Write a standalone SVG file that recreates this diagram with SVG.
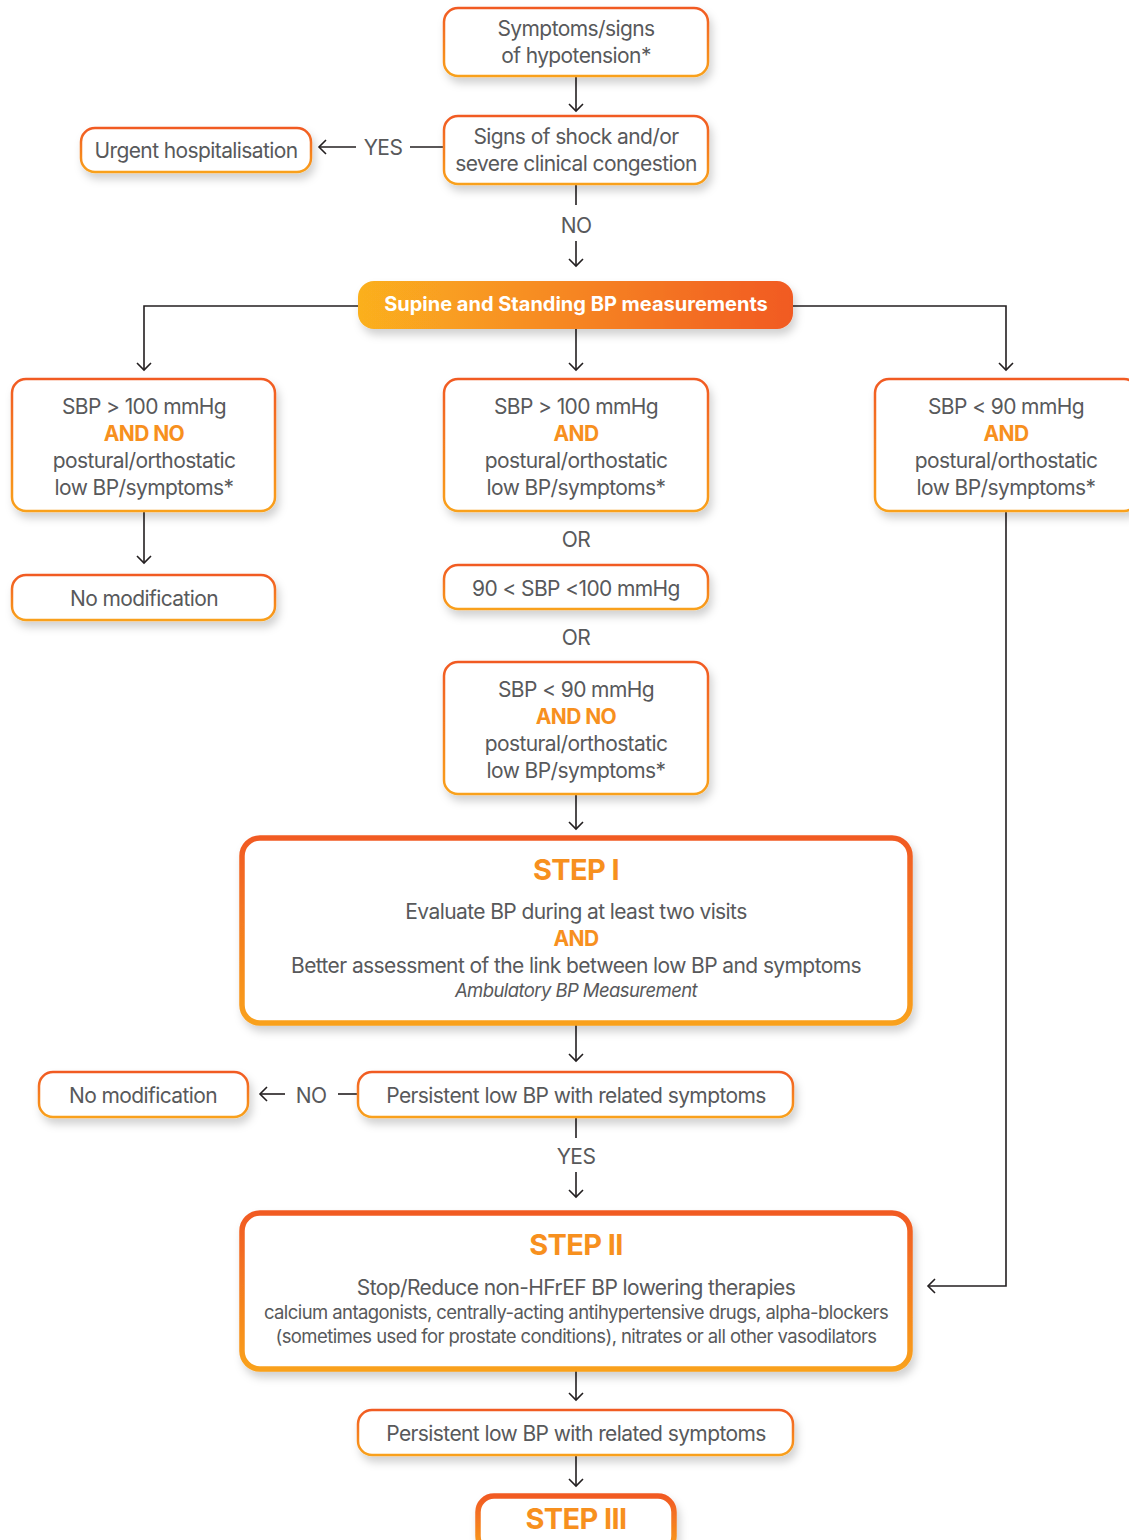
<svg xmlns="http://www.w3.org/2000/svg" width="1129" height="1540" viewBox="0 0 1129 1540">
<defs>
<linearGradient id="gs" x1="0" y1="0" x2="0" y2="1"><stop offset="0" stop-color="#f15a24"/><stop offset="1" stop-color="#f9a11b"/></linearGradient>
<linearGradient id="gh" x1="0" y1="0" x2="1" y2="0"><stop offset="0" stop-color="#fbb01f"/><stop offset="1" stop-color="#f15a24"/></linearGradient>
<filter id="sh" x="-10%" y="-20%" width="125%" height="160%"><feDropShadow dx="3" dy="6" stdDeviation="4" flood-color="#000" flood-opacity="0.18"/></filter>
<marker id="ar" markerUnits="userSpaceOnUse" markerWidth="20" markerHeight="20" refX="10" refY="10" orient="auto"><path d="M3,3 L10,10 L3,17" fill="none" stroke="#231f20" stroke-width="1.6"/></marker>
<style>
.n{fill:#fff;stroke:url(#gs);stroke-width:2.5;filter:url(#sh)}
.nb{fill:#fff;stroke:url(#gs);stroke-width:5.5;filter:url(#sh)}
.t{font-family:Inter,"Liberation Sans",sans-serif;font-size:21px;fill:#58595b;text-anchor:middle;letter-spacing:-0.6px}
.o{font-family:Inter,"Liberation Sans",sans-serif;font-size:21px;fill:#f7901e;font-weight:700;text-anchor:middle;letter-spacing:-0.6px}
.s{font-family:Inter,"Liberation Sans",sans-serif;font-size:29px;fill:#f7901e;font-weight:700;text-anchor:middle;letter-spacing:-0.6px}
.sm{font-family:Inter,"Liberation Sans",sans-serif;font-size:18.5px;fill:#58595b;text-anchor:middle;letter-spacing:-0.58px}
.c{fill:none;stroke:#231f20;stroke-width:1.6}
</style>
</defs>
<g id="connectors">
<path class="c" d="M576,76 V111" marker-end="url(#ar)"/>
<path class="c" d="M444,147 H410"/>
<path class="c" d="M356,147 H319" marker-end="url(#ar)"/>
<text class="t" x="383" y="155">YES</text>
<path class="c" d="M576,184 V205"/>
<text class="t" x="576" y="233">NO</text>
<path class="c" d="M576,241 V266" marker-end="url(#ar)"/>
<path class="c" d="M358,306 H144 V370" marker-end="url(#ar)"/>
<path class="c" d="M793,306 H1006 V370" marker-end="url(#ar)"/>
<path class="c" d="M576,329 V370" marker-end="url(#ar)"/>
<path class="c" d="M144,511 V563" marker-end="url(#ar)"/>
<text class="t" x="576" y="547">OR</text>
<text class="t" x="576" y="645">OR</text>
<path class="c" d="M576,794 V829" marker-end="url(#ar)"/>
<path class="c" d="M576,1024 V1061" marker-end="url(#ar)"/>
<path class="c" d="M358,1094 H338"/>
<text class="t" x="311" y="1103">NO</text>
<path class="c" d="M285,1094 H260" marker-end="url(#ar)"/>
<path class="c" d="M576,1117 V1138"/>
<text class="t" x="576" y="1164">YES</text>
<path class="c" d="M576,1172 V1197" marker-end="url(#ar)"/>
<path class="c" d="M1006,511 V1286 H928" marker-end="url(#ar)"/>
<path class="c" d="M576,1370 V1400" marker-end="url(#ar)"/>
<path class="c" d="M576,1455 V1486" marker-end="url(#ar)"/>
</g>
<g id="n1"><rect class="n" x="444" y="8" width="264" height="68" rx="14"/><text class="t" x="576" y="36">Symptoms/signs</text><text class="t" x="576" y="63">of hypotension*</text></g>
<g id="n2"><rect class="n" x="444" y="116" width="264" height="68" rx="14"/><text class="t" x="576" y="144">Signs of shock and/or</text><text class="t" x="576" y="171">severe clinical congestion</text></g>
<g id="n3"><rect class="n" x="81" y="128" width="230" height="44" rx="14"/><text class="t" x="196" y="158">Urgent hospitalisation</text></g>
<g id="n4"><rect x="358" y="281" width="435" height="48" rx="16" fill="url(#gh)" filter="url(#sh)"/><text x="576" y="311" font-family="Inter,'Liberation Sans',sans-serif" font-size="20" font-weight="700" fill="#fff" text-anchor="middle" letter-spacing="0">Supine and Standing BP measurements</text></g>
<g id="n5"><rect class="n" x="12" y="379" width="263" height="132" rx="14"/><text class="t" x="144" y="414">SBP &gt; 100 mmHg</text><text class="o" x="144" y="441">AND NO</text><text class="t" x="144" y="468">postural/orthostatic</text><text class="t" x="144" y="495">low BP/symptoms*</text></g>
<g id="n6"><rect class="n" x="444" y="379" width="264" height="132" rx="14"/><text class="t" x="576" y="414">SBP &gt; 100 mmHg</text><text class="o" x="576" y="441">AND</text><text class="t" x="576" y="468">postural/orthostatic</text><text class="t" x="576" y="495">low BP/symptoms*</text></g>
<g id="n7"><rect class="n" x="875" y="379" width="263" height="132" rx="14"/><text class="t" x="1006" y="414">SBP &lt; 90 mmHg</text><text class="o" x="1006" y="441">AND</text><text class="t" x="1006" y="468">postural/orthostatic</text><text class="t" x="1006" y="495">low BP/symptoms*</text></g>
<g id="n8"><rect class="n" x="12" y="575" width="263" height="45" rx="14"/><text class="t" x="144" y="606">No modification</text></g>
<g id="n9"><rect class="n" x="444" y="565" width="264" height="44" rx="14"/><text class="t" x="576" y="596">90 &lt; SBP &lt;100 mmHg</text></g>
<g id="n10"><rect class="n" x="444" y="662" width="264" height="132" rx="14"/><text class="t" x="576" y="697">SBP &lt; 90 mmHg</text><text class="o" x="576" y="724">AND NO</text><text class="t" x="576" y="751">postural/orthostatic</text><text class="t" x="576" y="778">low BP/symptoms*</text></g>
<g id="n11"><rect class="nb" x="242" y="838" width="668" height="185" rx="18"/><text class="s" x="576" y="880">STEP I</text><text class="t" x="576" y="919">Evaluate BP during at least two visits</text><text class="o" x="576" y="946">AND</text><text class="t" x="576" y="973">Better assessment of the link between low BP and symptoms</text><text class="sm" x="576" y="997" font-style="italic">Ambulatory BP Measurement</text></g>
<g id="n12"><rect class="n" x="358" y="1072" width="435" height="45" rx="14"/><text class="t" x="576" y="1103">Persistent low BP with related symptoms</text></g>
<g id="n13"><rect class="n" x="39" y="1072" width="209" height="45" rx="14"/><text class="t" x="143" y="1103">No modification</text></g>
<g id="n14"><rect class="nb" x="242" y="1213" width="668" height="156" rx="18"/><text class="s" x="576" y="1255">STEP II</text><text class="t" x="576" y="1295">Stop/Reduce non-HFrEF BP lowering therapies</text><text class="sm" x="576" y="1319">calcium antagonists, centrally-acting antihypertensive drugs, alpha-blockers</text><text class="sm" x="576" y="1343">(sometimes used for prostate conditions), nitrates or all other vasodilators</text></g>
<g id="n15"><rect class="n" x="358" y="1410" width="435" height="45" rx="14"/><text class="t" x="576" y="1441">Persistent low BP with related symptoms</text></g>
<g id="n16"><rect class="nb" x="478" y="1496" width="196" height="56" rx="16"/><text class="s" x="576" y="1529">STEP III</text></g>
</svg>
